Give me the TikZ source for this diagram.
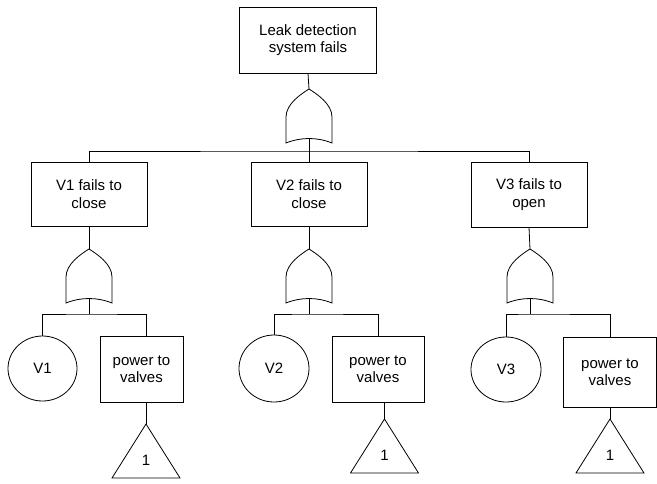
\documentclass[tikz,border=0pt]{standalone}
\usepackage{fontspec}
\setmainfont{Liberation Sans}
\usetikzlibrary{shapes.geometric}
\begin{document}
\begin{tikzpicture}[x=1pt,y=-1pt,
  line width=0.8pt,
  lbl/.style={font=\fontsize{15}{17.5}\selectfont, align=center, inner sep=0pt},
  event/.style={lbl, draw, rectangle},
  basic/.style={lbl, draw, ellipse},
  orgate/.pic={
    \draw (0,0) .. controls (-8,5) and (-23,15) .. (-23,28) -- (-23,54)
          .. controls (-8,48) and (8,48) .. (23,54) -- (23,28)
          .. controls (23,15) and (8,5) .. (0,0) -- cycle;
    \coordinate (-in) at (0,0);
    \coordinate (-out) at (0,49.5);
  },
  transfer/.pic={
    \draw (0,0) -- (-34,54) -- (34,54) -- cycle;
    \coordinate (-in) at (0,0);
    \node[lbl] (-lbl) at (0,36) {1};
  }]
\useasboundingbox (0,0) rectangle (657,483);

% top event and its OR gate
\node[event, minimum width=137pt, minimum height=66pt] (top) at (308,40) {Leak detection\\system fails};
\pic (g0) at (309,89) {orgate};
\coordinate (bus0) at (309,151);

% intermediate events
\node[event, minimum width=116pt, minimum height=64pt] (b1) at (89,194) {V1 fails to\\close};
\node[event, minimum width=116pt, minimum height=64pt] (b2) at (309,194) {V2 fails to\\close};
\node[event, minimum width=116pt, minimum height=65pt] (b3) at (529,194.5) {V3 fails to\\open};

% gates below the intermediate events
\pic (g1) at (89,249) {orgate};
\pic (g2) at (309,249) {orgate};
\pic (g3) at (530,249) {orgate};
\coordinate (bus1) at (89,314);
\coordinate (bus2) at (309,314);
\coordinate (bus3) at (530,314);

% basic events
\node[basic, minimum width=69pt, minimum height=65pt] (c1) at (42.5,368.5) {V1};
\node[basic, minimum width=70pt, minimum height=67pt] (c2) at (274,368.5) {V2};
\node[basic, minimum width=70pt, minimum height=65pt] (c3) at (506,369.5) {V3};

% power supply events
\node[event, minimum width=83pt, minimum height=66pt] (p1) at (141.5,369) {power to\\valves};
\node[event, minimum width=92pt, minimum height=66pt] (p2) at (378,369) {power to\\valves};
\node[event, minimum width=93pt, minimum height=70pt] (p3) at (610,372) {power to\\valves};

% transfer symbols
\pic (t1) at (146,424) {transfer};
\pic (t2) at (384.5,419) {transfer};
\pic (t3) at (610,419) {transfer};

% connectors
\draw (top.south) -- (g0-in);
\draw (g0-out) -- (b2.north);
\draw (b1.north) |- (bus0) -| (b3.north);

\draw (b1.south) -- (g1-in);
\draw (g1-out) -- (bus1);
\draw (c1.north) |- (bus1) -| (t1-in |- p1.north);
\draw (t1-in |- p1.south) -- (t1-in);

\draw (b2.south) -- (g2-in);
\draw (g2-out) -- (bus2);
\draw (c2.north) |- (bus2) -| (p2.north);
\draw (t2-in |- p2.south) -- (t2-in);

\draw (b3.south) -- (g3-in);
\draw (g3-out) -- (bus3);
\draw (c3.north) |- (bus3) -| (p3.north);
\draw (p3.south) -- (t3-in);
\end{tikzpicture}
\end{document}
